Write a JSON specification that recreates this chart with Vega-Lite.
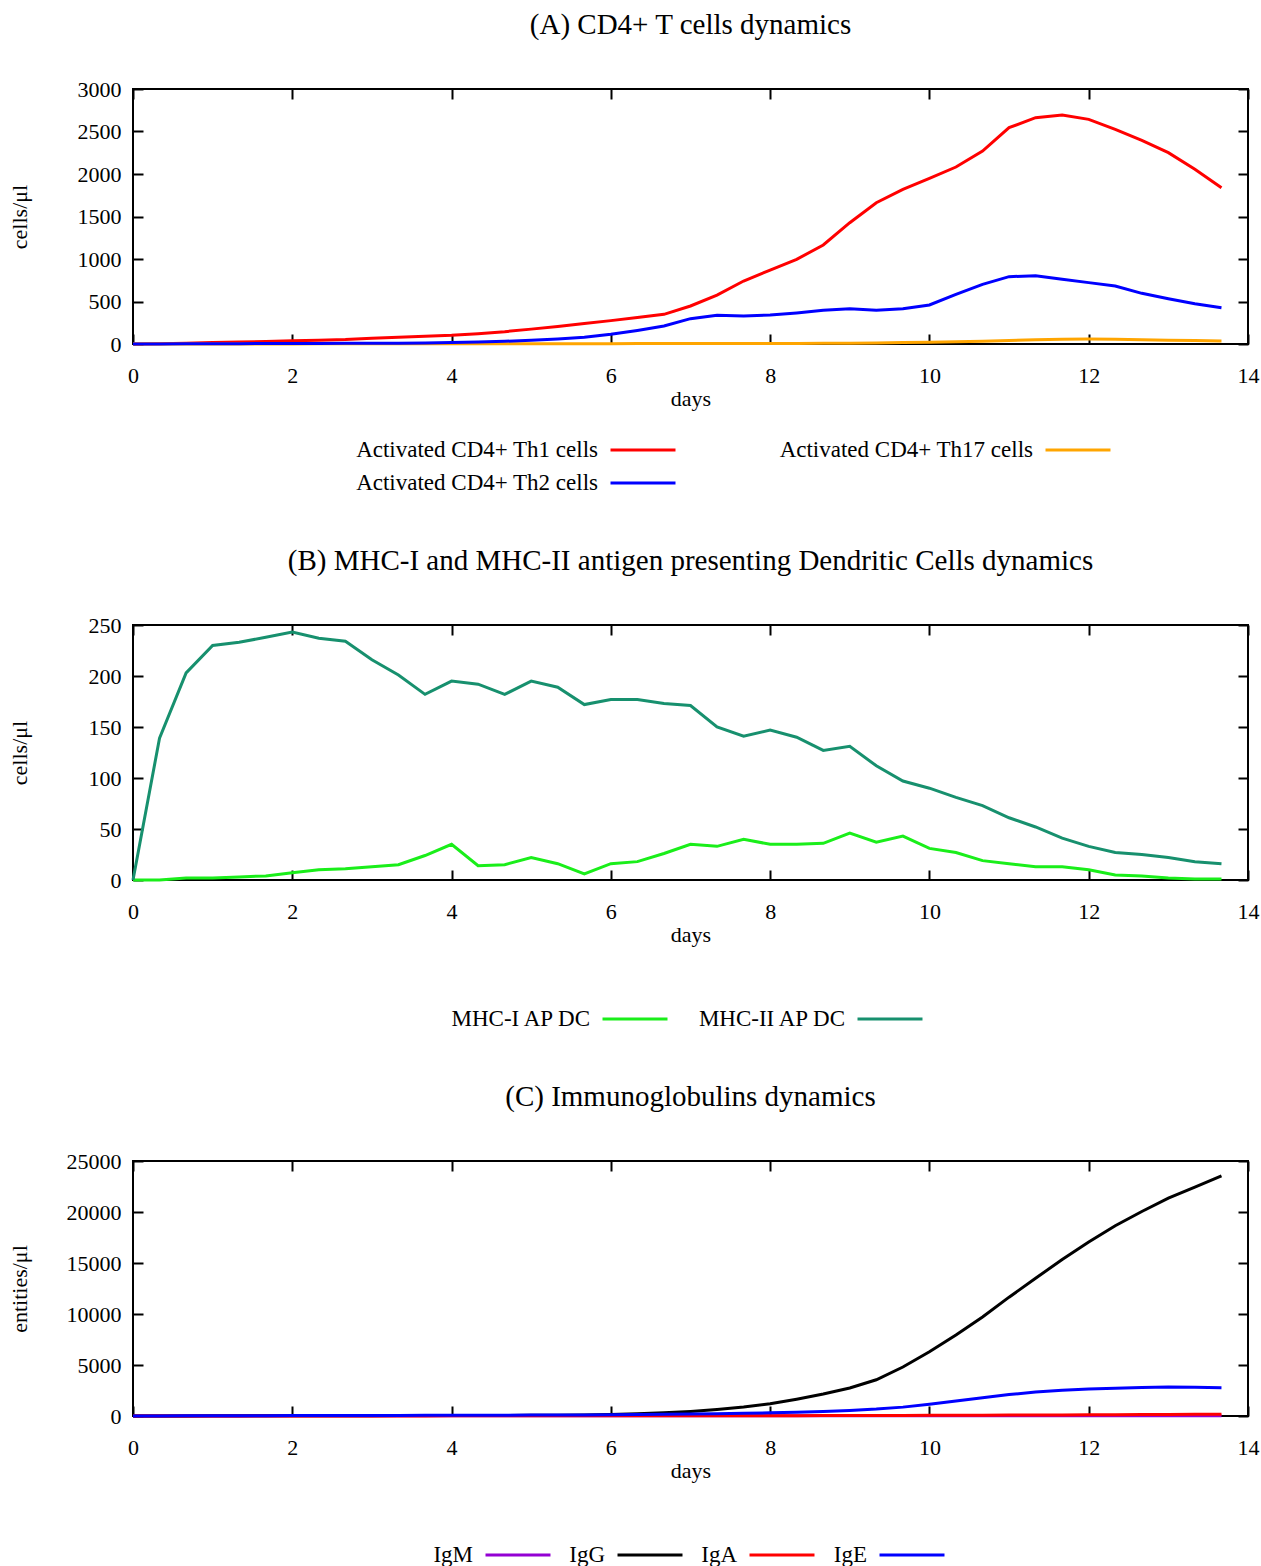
{
"$schema": "https://vega.github.io/schema/vega-lite/v6.json",
"background": "white",
"padding": {"left": 7, "top": 10, "right": 15, "bottom": 0},
"config": {
  "font": "Liberation Serif",
  "view": {"stroke": "black", "strokeWidth": 2},
  "title": {"font": "Liberation Serif", "fontSize": 29, "fontWeight": "normal", "color": "black", "anchor": "middle", "offset": 38},
  "axis": {"labelFont": "Liberation Serif", "labelFontSize": 22, "labelColor": "black", "titleFont": "Liberation Serif", "titleFontSize": 22, "titleFontWeight": "normal", "titleColor": "black", "gridColor": "#dadada", "gridWidth": 1, "domain": false, "tickColor": "black", "tickWidth": 2, "tickSize": -10, "labelFlush": false, "labelOverlap": false},
  "axisX": {"labelPadding": 31, "titlePadding": 2},
  "axisY": {"labelPadding": 22, "titlePadding": 46},
  "legend": {"orient": "none", "labelFont": "Liberation Serif", "labelFontSize": 23, "labelColor": "black", "labelLimit": 0, "symbolType": "M-2,0L2,0", "symbolSize": 1056, "symbolStrokeWidth": 3, "symbolFillColor": "transparent", "labelAlign": "right", "labelOffset": -63, "padding": 0, "title": null, "rowPadding": 3}
},
"datasets": {
"a": [
{"t":0,"s":"Th1","v":0},{"t":0.333,"s":"Th1","v":4},{"t":0.667,"s":"Th1","v":10},{"t":1,"s":"Th1","v":18},{"t":1.333,"s":"Th1","v":24},{"t":1.667,"s":"Th1","v":30},{"t":2,"s":"Th1","v":37},{"t":2.333,"s":"Th1","v":44},{"t":2.667,"s":"Th1","v":52},{"t":3,"s":"Th1","v":68},{"t":3.333,"s":"Th1","v":78},{"t":3.667,"s":"Th1","v":90},{"t":4,"s":"Th1","v":102},{"t":4.333,"s":"Th1","v":122},{"t":4.667,"s":"Th1","v":145},{"t":5,"s":"Th1","v":175},{"t":5.333,"s":"Th1","v":205},{"t":5.667,"s":"Th1","v":240},{"t":6,"s":"Th1","v":275},{"t":6.333,"s":"Th1","v":311},{"t":6.667,"s":"Th1","v":349},{"t":7,"s":"Th1","v":447},{"t":7.333,"s":"Th1","v":576},{"t":7.667,"s":"Th1","v":741},{"t":8,"s":"Th1","v":870},{"t":8.333,"s":"Th1","v":996},{"t":8.667,"s":"Th1","v":1165},{"t":9,"s":"Th1","v":1427},{"t":9.333,"s":"Th1","v":1662},{"t":9.667,"s":"Th1","v":1820},{"t":10,"s":"Th1","v":1949},{"t":10.333,"s":"Th1","v":2082},{"t":10.667,"s":"Th1","v":2270},{"t":11,"s":"Th1","v":2545},{"t":11.333,"s":"Th1","v":2663},{"t":11.667,"s":"Th1","v":2694},{"t":12,"s":"Th1","v":2643},{"t":12.333,"s":"Th1","v":2525},{"t":12.667,"s":"Th1","v":2396},{"t":13,"s":"Th1","v":2251},{"t":13.333,"s":"Th1","v":2055},{"t":13.667,"s":"Th1","v":1839},
{"t":0,"s":"Th17","v":0},{"t":0.333,"s":"Th17","v":0},{"t":0.667,"s":"Th17","v":1},{"t":1,"s":"Th17","v":1},{"t":1.333,"s":"Th17","v":1},{"t":1.667,"s":"Th17","v":1},{"t":2,"s":"Th17","v":1},{"t":2.333,"s":"Th17","v":2},{"t":2.667,"s":"Th17","v":2},{"t":3,"s":"Th17","v":2},{"t":3.333,"s":"Th17","v":2},{"t":3.667,"s":"Th17","v":2},{"t":4,"s":"Th17","v":3},{"t":4.333,"s":"Th17","v":3},{"t":4.667,"s":"Th17","v":3},{"t":5,"s":"Th17","v":3},{"t":5.333,"s":"Th17","v":4},{"t":5.667,"s":"Th17","v":4},{"t":6,"s":"Th17","v":4},{"t":6.333,"s":"Th17","v":5},{"t":6.667,"s":"Th17","v":5},{"t":7,"s":"Th17","v":5},{"t":7.333,"s":"Th17","v":6},{"t":7.667,"s":"Th17","v":6},{"t":8,"s":"Th17","v":7},{"t":8.333,"s":"Th17","v":7},{"t":8.667,"s":"Th17","v":8},{"t":9,"s":"Th17","v":10},{"t":9.333,"s":"Th17","v":13},{"t":9.667,"s":"Th17","v":17},{"t":10,"s":"Th17","v":22},{"t":10.333,"s":"Th17","v":27},{"t":10.667,"s":"Th17","v":33},{"t":11,"s":"Th17","v":42},{"t":11.333,"s":"Th17","v":50},{"t":11.667,"s":"Th17","v":57},{"t":12,"s":"Th17","v":59},{"t":12.333,"s":"Th17","v":55},{"t":12.667,"s":"Th17","v":50},{"t":13,"s":"Th17","v":45},{"t":13.333,"s":"Th17","v":40},{"t":13.667,"s":"Th17","v":35},
{"t":0,"s":"Th2","v":0},{"t":0.333,"s":"Th2","v":1},{"t":0.667,"s":"Th2","v":2},{"t":1,"s":"Th2","v":3},{"t":1.333,"s":"Th2","v":4},{"t":1.667,"s":"Th2","v":5},{"t":2,"s":"Th2","v":6},{"t":2.333,"s":"Th2","v":7},{"t":2.667,"s":"Th2","v":8},{"t":3,"s":"Th2","v":9},{"t":3.333,"s":"Th2","v":10},{"t":3.667,"s":"Th2","v":12},{"t":4,"s":"Th2","v":18},{"t":4.333,"s":"Th2","v":24},{"t":4.667,"s":"Th2","v":32},{"t":5,"s":"Th2","v":45},{"t":5.333,"s":"Th2","v":60},{"t":5.667,"s":"Th2","v":80},{"t":6,"s":"Th2","v":115},{"t":6.333,"s":"Th2","v":160},{"t":6.667,"s":"Th2","v":212},{"t":7,"s":"Th2","v":298},{"t":7.333,"s":"Th2","v":337},{"t":7.667,"s":"Th2","v":329},{"t":8,"s":"Th2","v":341},{"t":8.333,"s":"Th2","v":365},{"t":8.667,"s":"Th2","v":396},{"t":9,"s":"Th2","v":416},{"t":9.333,"s":"Th2","v":396},{"t":9.667,"s":"Th2","v":416},{"t":10,"s":"Th2","v":459},{"t":10.333,"s":"Th2","v":584},{"t":10.667,"s":"Th2","v":702},{"t":11,"s":"Th2","v":792},{"t":11.333,"s":"Th2","v":804},{"t":11.667,"s":"Th2","v":761},{"t":12,"s":"Th2","v":722},{"t":12.333,"s":"Th2","v":682},{"t":12.667,"s":"Th2","v":596},{"t":13,"s":"Th2","v":533},{"t":13.333,"s":"Th2","v":474},{"t":13.667,"s":"Th2","v":427}
],
"b": [
{"t":0,"s":"MHC-I AP DC","v":0},{"t":0.333,"s":"MHC-I AP DC","v":0},{"t":0.667,"s":"MHC-I AP DC","v":2},{"t":1,"s":"MHC-I AP DC","v":2},{"t":1.333,"s":"MHC-I AP DC","v":3},{"t":1.667,"s":"MHC-I AP DC","v":4},{"t":2,"s":"MHC-I AP DC","v":7},{"t":2.333,"s":"MHC-I AP DC","v":10},{"t":2.667,"s":"MHC-I AP DC","v":11},{"t":3,"s":"MHC-I AP DC","v":13},{"t":3.333,"s":"MHC-I AP DC","v":15},{"t":3.667,"s":"MHC-I AP DC","v":24},{"t":4,"s":"MHC-I AP DC","v":35},{"t":4.333,"s":"MHC-I AP DC","v":14},{"t":4.667,"s":"MHC-I AP DC","v":15},{"t":5,"s":"MHC-I AP DC","v":22},{"t":5.333,"s":"MHC-I AP DC","v":16},{"t":5.667,"s":"MHC-I AP DC","v":6},{"t":6,"s":"MHC-I AP DC","v":16},{"t":6.333,"s":"MHC-I AP DC","v":18},{"t":6.667,"s":"MHC-I AP DC","v":26},{"t":7,"s":"MHC-I AP DC","v":35},{"t":7.333,"s":"MHC-I AP DC","v":33},{"t":7.667,"s":"MHC-I AP DC","v":40},{"t":8,"s":"MHC-I AP DC","v":35},{"t":8.333,"s":"MHC-I AP DC","v":35},{"t":8.667,"s":"MHC-I AP DC","v":36},{"t":9,"s":"MHC-I AP DC","v":46},{"t":9.333,"s":"MHC-I AP DC","v":37},{"t":9.667,"s":"MHC-I AP DC","v":43},{"t":10,"s":"MHC-I AP DC","v":31},{"t":10.333,"s":"MHC-I AP DC","v":27},{"t":10.667,"s":"MHC-I AP DC","v":19},{"t":11,"s":"MHC-I AP DC","v":16},{"t":11.333,"s":"MHC-I AP DC","v":13},{"t":11.667,"s":"MHC-I AP DC","v":13},{"t":12,"s":"MHC-I AP DC","v":10},{"t":12.333,"s":"MHC-I AP DC","v":5},{"t":12.667,"s":"MHC-I AP DC","v":4},{"t":13,"s":"MHC-I AP DC","v":2},{"t":13.333,"s":"MHC-I AP DC","v":1},{"t":13.667,"s":"MHC-I AP DC","v":1},
{"t":0,"s":"MHC-II AP DC","v":0},{"t":0.333,"s":"MHC-II AP DC","v":139},{"t":0.667,"s":"MHC-II AP DC","v":203},{"t":1,"s":"MHC-II AP DC","v":230},{"t":1.333,"s":"MHC-II AP DC","v":233},{"t":1.667,"s":"MHC-II AP DC","v":238},{"t":2,"s":"MHC-II AP DC","v":243},{"t":2.333,"s":"MHC-II AP DC","v":237},{"t":2.667,"s":"MHC-II AP DC","v":234},{"t":3,"s":"MHC-II AP DC","v":216},{"t":3.333,"s":"MHC-II AP DC","v":201},{"t":3.667,"s":"MHC-II AP DC","v":182},{"t":4,"s":"MHC-II AP DC","v":195},{"t":4.333,"s":"MHC-II AP DC","v":192},{"t":4.667,"s":"MHC-II AP DC","v":182},{"t":5,"s":"MHC-II AP DC","v":195},{"t":5.333,"s":"MHC-II AP DC","v":189},{"t":5.667,"s":"MHC-II AP DC","v":172},{"t":6,"s":"MHC-II AP DC","v":177},{"t":6.333,"s":"MHC-II AP DC","v":177},{"t":6.667,"s":"MHC-II AP DC","v":173},{"t":7,"s":"MHC-II AP DC","v":171},{"t":7.333,"s":"MHC-II AP DC","v":150},{"t":7.667,"s":"MHC-II AP DC","v":141},{"t":8,"s":"MHC-II AP DC","v":147},{"t":8.333,"s":"MHC-II AP DC","v":140},{"t":8.667,"s":"MHC-II AP DC","v":127},{"t":9,"s":"MHC-II AP DC","v":131},{"t":9.333,"s":"MHC-II AP DC","v":112},{"t":9.667,"s":"MHC-II AP DC","v":97},{"t":10,"s":"MHC-II AP DC","v":90},{"t":10.333,"s":"MHC-II AP DC","v":81},{"t":10.667,"s":"MHC-II AP DC","v":73},{"t":11,"s":"MHC-II AP DC","v":61},{"t":11.333,"s":"MHC-II AP DC","v":52},{"t":11.667,"s":"MHC-II AP DC","v":41},{"t":12,"s":"MHC-II AP DC","v":33},{"t":12.333,"s":"MHC-II AP DC","v":27},{"t":12.667,"s":"MHC-II AP DC","v":25},{"t":13,"s":"MHC-II AP DC","v":22},{"t":13.333,"s":"MHC-II AP DC","v":18},{"t":13.667,"s":"MHC-II AP DC","v":16}
],
"c": [
{"t":0,"s":"IgM","v":0},{"t":0.333,"s":"IgM","v":5},{"t":0.667,"s":"IgM","v":8},{"t":1,"s":"IgM","v":10},{"t":1.333,"s":"IgM","v":12},{"t":1.667,"s":"IgM","v":13},{"t":2,"s":"IgM","v":14},{"t":2.333,"s":"IgM","v":15},{"t":2.667,"s":"IgM","v":15},{"t":3,"s":"IgM","v":16},{"t":3.333,"s":"IgM","v":16},{"t":3.667,"s":"IgM","v":16},{"t":4,"s":"IgM","v":17},{"t":4.333,"s":"IgM","v":17},{"t":4.667,"s":"IgM","v":17},{"t":5,"s":"IgM","v":17},{"t":5.333,"s":"IgM","v":18},{"t":5.667,"s":"IgM","v":18},{"t":6,"s":"IgM","v":18},{"t":6.333,"s":"IgM","v":18},{"t":6.667,"s":"IgM","v":18},{"t":7,"s":"IgM","v":18},{"t":7.333,"s":"IgM","v":18},{"t":7.667,"s":"IgM","v":18},{"t":8,"s":"IgM","v":18},{"t":8.333,"s":"IgM","v":18},{"t":8.667,"s":"IgM","v":18},{"t":9,"s":"IgM","v":18},{"t":9.333,"s":"IgM","v":18},{"t":9.667,"s":"IgM","v":18},{"t":10,"s":"IgM","v":18},{"t":10.333,"s":"IgM","v":18},{"t":10.667,"s":"IgM","v":18},{"t":11,"s":"IgM","v":18},{"t":11.333,"s":"IgM","v":18},{"t":11.667,"s":"IgM","v":18},{"t":12,"s":"IgM","v":18},{"t":12.333,"s":"IgM","v":18},{"t":12.667,"s":"IgM","v":18},{"t":13,"s":"IgM","v":18},{"t":13.333,"s":"IgM","v":18},{"t":13.667,"s":"IgM","v":18},
{"t":0,"s":"IgG","v":0},{"t":0.333,"s":"IgG","v":5},{"t":0.667,"s":"IgG","v":10},{"t":1,"s":"IgG","v":15},{"t":1.333,"s":"IgG","v":18},{"t":1.667,"s":"IgG","v":22},{"t":2,"s":"IgG","v":26},{"t":2.333,"s":"IgG","v":30},{"t":2.667,"s":"IgG","v":33},{"t":3,"s":"IgG","v":36},{"t":3.333,"s":"IgG","v":40},{"t":3.667,"s":"IgG","v":43},{"t":4,"s":"IgG","v":47},{"t":4.333,"s":"IgG","v":52},{"t":4.667,"s":"IgG","v":58},{"t":5,"s":"IgG","v":66},{"t":5.333,"s":"IgG","v":80},{"t":5.667,"s":"IgG","v":100},{"t":6,"s":"IgG","v":140},{"t":6.333,"s":"IgG","v":210},{"t":6.667,"s":"IgG","v":310},{"t":7,"s":"IgG","v":450},{"t":7.333,"s":"IgG","v":640},{"t":7.667,"s":"IgG","v":880},{"t":8,"s":"IgG","v":1210},{"t":8.333,"s":"IgG","v":1650},{"t":8.667,"s":"IgG","v":2150},{"t":9,"s":"IgG","v":2750},{"t":9.333,"s":"IgG","v":3550},{"t":9.667,"s":"IgG","v":4800},{"t":10,"s":"IgG","v":6300},{"t":10.333,"s":"IgG","v":7950},{"t":10.667,"s":"IgG","v":9700},{"t":11,"s":"IgG","v":11650},{"t":11.333,"s":"IgG","v":13500},{"t":11.667,"s":"IgG","v":15350},{"t":12,"s":"IgG","v":17050},{"t":12.333,"s":"IgG","v":18650},{"t":12.667,"s":"IgG","v":20050},{"t":13,"s":"IgG","v":21350},{"t":13.333,"s":"IgG","v":22450},{"t":13.667,"s":"IgG","v":23550},
{"t":0,"s":"IgA","v":0},{"t":0.333,"s":"IgA","v":2},{"t":0.667,"s":"IgA","v":3},{"t":1,"s":"IgA","v":4},{"t":1.333,"s":"IgA","v":5},{"t":1.667,"s":"IgA","v":6},{"t":2,"s":"IgA","v":7},{"t":2.333,"s":"IgA","v":8},{"t":2.667,"s":"IgA","v":9},{"t":3,"s":"IgA","v":10},{"t":3.333,"s":"IgA","v":11},{"t":3.667,"s":"IgA","v":12},{"t":4,"s":"IgA","v":13},{"t":4.333,"s":"IgA","v":14},{"t":4.667,"s":"IgA","v":15},{"t":5,"s":"IgA","v":16},{"t":5.333,"s":"IgA","v":17},{"t":5.667,"s":"IgA","v":18},{"t":6,"s":"IgA","v":20},{"t":6.333,"s":"IgA","v":22},{"t":6.667,"s":"IgA","v":24},{"t":7,"s":"IgA","v":26},{"t":7.333,"s":"IgA","v":28},{"t":7.667,"s":"IgA","v":30},{"t":8,"s":"IgA","v":33},{"t":8.333,"s":"IgA","v":36},{"t":8.667,"s":"IgA","v":40},{"t":9,"s":"IgA","v":45},{"t":9.333,"s":"IgA","v":50},{"t":9.667,"s":"IgA","v":56},{"t":10,"s":"IgA","v":62},{"t":10.333,"s":"IgA","v":70},{"t":10.667,"s":"IgA","v":80},{"t":11,"s":"IgA","v":90},{"t":11.333,"s":"IgA","v":100},{"t":11.667,"s":"IgA","v":110},{"t":12,"s":"IgA","v":120},{"t":12.333,"s":"IgA","v":130},{"t":12.667,"s":"IgA","v":140},{"t":13,"s":"IgA","v":150},{"t":13.333,"s":"IgA","v":160},{"t":13.667,"s":"IgA","v":170},
{"t":0,"s":"IgE","v":0},{"t":0.333,"s":"IgE","v":10},{"t":0.667,"s":"IgE","v":20},{"t":1,"s":"IgE","v":25},{"t":1.333,"s":"IgE","v":30},{"t":1.667,"s":"IgE","v":35},{"t":2,"s":"IgE","v":40},{"t":2.333,"s":"IgE","v":45},{"t":2.667,"s":"IgE","v":50},{"t":3,"s":"IgE","v":55},{"t":3.333,"s":"IgE","v":60},{"t":3.667,"s":"IgE","v":65},{"t":4,"s":"IgE","v":70},{"t":4.333,"s":"IgE","v":75},{"t":4.667,"s":"IgE","v":80},{"t":5,"s":"IgE","v":90},{"t":5.333,"s":"IgE","v":100},{"t":5.667,"s":"IgE","v":110},{"t":6,"s":"IgE","v":125},{"t":6.333,"s":"IgE","v":140},{"t":6.667,"s":"IgE","v":160},{"t":7,"s":"IgE","v":190},{"t":7.333,"s":"IgE","v":220},{"t":7.667,"s":"IgE","v":260},{"t":8,"s":"IgE","v":310},{"t":8.333,"s":"IgE","v":370},{"t":8.667,"s":"IgE","v":450},{"t":9,"s":"IgE","v":550},{"t":9.333,"s":"IgE","v":680},{"t":9.667,"s":"IgE","v":870},{"t":10,"s":"IgE","v":1150},{"t":10.333,"s":"IgE","v":1480},{"t":10.667,"s":"IgE","v":1800},{"t":11,"s":"IgE","v":2100},{"t":11.333,"s":"IgE","v":2350},{"t":11.667,"s":"IgE","v":2520},{"t":12,"s":"IgE","v":2640},{"t":12.333,"s":"IgE","v":2730},{"t":12.667,"s":"IgE","v":2800},{"t":13,"s":"IgE","v":2840},{"t":13.333,"s":"IgE","v":2820},{"t":13.667,"s":"IgE","v":2760}
]
},
"vconcat": [
{
  "title": "(A) CD4+ T cells dynamics",
  "width": 1115, "height": 255,
  "data": {"name": "a"},
  "layer": [
    {"mark": {"type": "line", "strokeOpacity": 0},
     "encoding": {
       "x": {"field": "t", "type": "quantitative", "scale": {"domain": [0, 14], "nice": false}, "axis": {"orient": "top", "labels": false, "grid": false, "title": null, "values": [0,2,4,6,8,10,12,14]}},
       "y": {"field": "v", "type": "quantitative", "scale": {"domain": [0, 3000], "nice": false}, "axis": {"orient": "right", "labels": false, "grid": false, "title": null, "values": [0,500,1000,1500,2000,2500,3000]}},
       "detail": {"field": "s"}}},
    {"mark": {"type": "line", "strokeWidth": 3},
     "encoding": {
       "x": {"field": "t", "type": "quantitative", "scale": {"domain": [0, 14], "nice": false}, "axis": {"title": "days", "format": "d", "values": [0,2,4,6,8,10,12,14]}},
       "y": {"field": "v", "type": "quantitative", "scale": {"domain": [0, 3000], "nice": false}, "axis": {"title": "cells/μl", "titlePadding": 46, "format": "d", "values": [0,500,1000,1500,2000,2500,3000]}},
       "color": {"field": "s", "type": "nominal", "sort": null,
         "scale": {"domain": ["Th1", "Th2", "Th17"], "range": ["#ff0000", "#0000ff", "#ffa500"]},
         "legend": {"columns": 2, "legendX": 492, "legendY": 343, "columnPadding": 97, "labelExpr": "'Activated CD4+ ' + datum.label + ' cells'"}}}}
  ],
  "resolve": {"axis": {"x": "independent", "y": "independent"}}
},
{
  "title": "(B) MHC-I and MHC-II antigen presenting Dendritic Cells dynamics",
  "width": 1115, "height": 255,
  "data": {"name": "b"},
  "layer": [
    {"mark": {"type": "line", "strokeOpacity": 0},
     "encoding": {
       "x": {"field": "t", "type": "quantitative", "scale": {"domain": [0, 14], "nice": false}, "axis": {"orient": "top", "labels": false, "grid": false, "title": null, "values": [0,2,4,6,8,10,12,14]}},
       "y": {"field": "v", "type": "quantitative", "scale": {"domain": [0, 250], "nice": false}, "axis": {"orient": "right", "labels": false, "grid": false, "title": null, "values": [0,50,100,150,200,250]}},
       "detail": {"field": "s"}}},
    {"mark": {"type": "line", "strokeWidth": 3},
     "encoding": {
       "x": {"field": "t", "type": "quantitative", "scale": {"domain": [0, 14], "nice": false}, "axis": {"title": "days", "format": "d", "values": [0,2,4,6,8,10,12,14]}},
       "y": {"field": "v", "type": "quantitative", "scale": {"domain": [0, 250], "nice": false}, "axis": {"title": "cells/μl", "titlePadding": 57, "format": "d", "values": [0,50,100,150,200,250]}},
       "color": {"field": "s", "type": "nominal", "sort": null,
         "scale": {"domain": ["MHC-I AP DC", "MHC-II AP DC"], "range": ["#1aee1a", "#17906e"]},
         "legend": {"direction": "horizontal", "legendX": 484, "legendY": 376, "columnPadding": 22}}}}
  ],
  "resolve": {"axis": {"x": "independent", "y": "independent"}}
},
{
  "title": "(C) Immunoglobulins dynamics",
  "width": 1115, "height": 255,
  "data": {"name": "c"},
  "layer": [
    {"mark": {"type": "line", "strokeOpacity": 0},
     "encoding": {
       "x": {"field": "t", "type": "quantitative", "scale": {"domain": [0, 14], "nice": false}, "axis": {"orient": "top", "labels": false, "grid": false, "title": null, "values": [0,2,4,6,8,10,12,14]}},
       "y": {"field": "v", "type": "quantitative", "scale": {"domain": [0, 25000], "nice": false}, "axis": {"orient": "right", "labels": false, "grid": false, "title": null, "values": [0,5000,10000,15000,20000,25000]}},
       "detail": {"field": "s"}}},
    {"mark": {"type": "line", "strokeWidth": 3},
     "encoding": {
       "x": {"field": "t", "type": "quantitative", "scale": {"domain": [0, 14], "nice": false}, "axis": {"title": "days", "format": "d", "values": [0,2,4,6,8,10,12,14]}},
       "y": {"field": "v", "type": "quantitative", "scale": {"domain": [0, 25000], "nice": false}, "axis": {"title": "entities/μl", "titlePadding": 35, "format": "d", "values": [0,5000,10000,15000,20000,25000]}},
       "color": {"field": "s", "type": "nominal", "sort": null,
         "scale": {"domain": ["IgM", "IgG", "IgA", "IgE"], "range": ["#9400d3", "#000000", "#ff0000", "#0000ff"]},
         "legend": {"direction": "horizontal", "legendX": 367, "legendY": 376, "columnPadding": 12}}}}
  ],
  "resolve": {"axis": {"x": "independent", "y": "independent"}}
}
],
"spacing": 50,
"resolve": {"scale": {"color": "independent"}, "legend": {"color": "independent"}}
}
